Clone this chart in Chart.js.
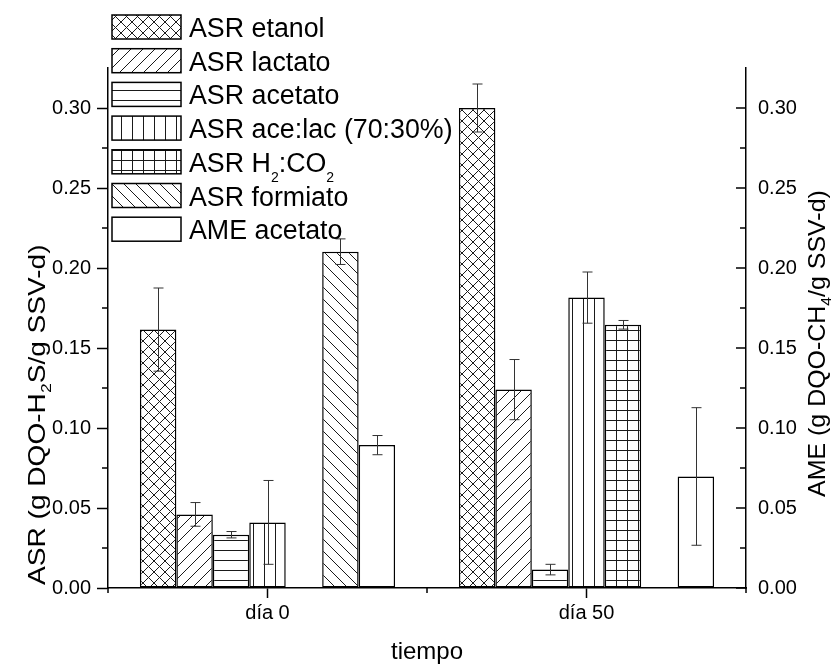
<!DOCTYPE html>
<html><head><meta charset="utf-8">
<script src="https://cdn.jsdelivr.net/npm/chart.js@4.4.0/dist/chart.umd.min.js"></script>
<style>html,body{margin:0;padding:0;background:#fff;}canvas{display:block;}</style>
</head><body>
<canvas id="c" width="836" height="666"></canvas>
<script>
// ---------------- data ----------------
const categories = ['día 0', 'día 50'];
const seriesNames = ['ASR etanol', 'ASR lactato', 'ASR acetato', 'ASR ace:lac (70:30%)', 'ASR H2:CO2', 'ASR formiato', 'AME acetato'];
const asrEtanol      = [0.1615, 0.3000];
const asrEtanolErr   = [0.0260, 0.0150];
const asrLactato     = [0.0460, 0.1240];
const asrLactatoErr  = [0.0074, 0.0188];
const asrAcetato     = [0.0333, 0.0115];
const asrAcetatoErr  = [0.0020, 0.0033];
const asrAceLac      = [0.0410, 0.1815];
const asrAceLacErr   = [0.0262, 0.0160];
const asrH2CO2       = [null, 0.1645];
const asrH2CO2Err    = [null, 0.0027];
const asrFormiato    = [0.2102, null];
const asrFormiatoErr = [0.0080, null];
const ameAcetato     = [0.0893, 0.0697];
const ameAcetatoErr  = [0.0060, 0.0430];
const yTickValues = [0.00, 0.05, 0.10, 0.15, 0.20, 0.25, 0.30];
const yMinorValues = [0.025, 0.075, 0.125, 0.175, 0.225, 0.275];
const yMax = 0.325;
// rich-text labels (text, isSubscript)
const legendRuns = [
  [['ASR etanol', 0]],
  [['ASR lactato', 0]],
  [['ASR acetato', 0]],
  [['ASR ace:lac (70:30%)', 0]],
  [['ASR H', 0], ['2', 1], [':CO', 0], ['2', 1]],
  [['ASR formiato', 0]],
  [['AME acetato', 0]]
];
const leftTitleRuns  = [['ASR (g DQO-H', 0], ['2', 1], ['S/g SSV-d)', 0]];
const rightTitleRuns = [['AME (g DQO-CH', 0], ['4', 1], ['/g SSV-d)', 0]];
const xTitle = 'tiempo';

// ---------------- patterns ----------------
const FONT = '"Liberation Sans", Arial, Helvetica, sans-serif';
const LINE = '#1a1a1a';
function makePattern(kind) {
  const c = document.createElement('canvas');
  let w = 11, h = 11;
  if (kind === 'h') { w = 10; h = 10; }
  if (kind === 'v') { w = 11; h = 10; }
  if (kind === 'grid') { w = 11; h = 10; }
  if (kind === 'fw' || kind === 'bw') { w = 12; h = 12; }
  c.width = w; c.height = h;
  const g = c.getContext('2d');
  g.fillStyle = '#fff'; g.fillRect(0, 0, w, h);
  g.strokeStyle = LINE; g.fillStyle = LINE; g.lineWidth = 1;
  if (kind === 'x' || kind === 'fw' || kind === 'bw') {
    g.beginPath();
    for (const k of [-w, 0, w]) {
      if (kind === 'x' || kind === 'bw') { g.moveTo(k, 0); g.lineTo(k + w, h); }
      if (kind === 'x' || kind === 'fw') { g.moveTo(k, h); g.lineTo(k + w, 0); }
    }
    g.stroke();
  }
  if (kind === 'h' || kind === 'grid') g.fillRect(0, 0, w, 1);
  if (kind === 'v' || kind === 'grid') g.fillRect(0, 0, 1, h);
  if (kind === 'none') return '#ffffff';
  return g.createPattern(c, 'repeat');
}
const fills = ['x', 'fw', 'h', 'v', 'grid', 'bw', 'none'].map(makePattern);
const values = [asrEtanol, asrLactato, asrAcetato, asrAceLac, asrH2CO2, asrFormiato, ameAcetato];
const errors = [asrEtanolErr, asrLactatoErr, asrAcetatoErr, asrAceLacErr, asrH2CO2Err, asrFormiatoErr, ameAcetatoErr];

function drawRuns(ctx, runs, x, y, size, subSize, subDy) {
  let cx = x;
  for (const [t, sub] of runs) {
    ctx.font = (sub ? subSize : size) + 'px ' + FONT;
    ctx.fillText(t, cx, y + (sub ? subDy : 0));
    cx += ctx.measureText(t).width;
  }
  return cx - x;
}

const errorBars = {
  id: 'errorBars',
  afterDatasetsDraw(chart) {
    const ctx = chart.ctx, ys = chart.scales.y;
    ctx.save();
    ctx.strokeStyle = '#333'; ctx.lineWidth = 1;
    values.forEach((vals, i) => {
      const meta = chart.getDatasetMeta(i);
      vals.forEach((v, j) => {
        const e = errors[i][j];
        if (v == null || e == null) return;
        const x = Math.round(meta.data[j].x) + 0.5;
        const yt = ys.getPixelForValue(v + e), yb = ys.getPixelForValue(v - e);
        ctx.beginPath();
        ctx.moveTo(x, yt); ctx.lineTo(x, yb);
        ctx.moveTo(x - 5, yt); ctx.lineTo(x + 5, yt);
        ctx.moveTo(x - 5, yb); ctx.lineTo(x + 5, yb);
        ctx.stroke();
      });
    });
    ctx.restore();
  }
};

const decor = {
  id: 'decor',
  afterDraw(chart) {
    const ctx = chart.ctx, a = chart.chartArea, ys = chart.scales.y, xs = chart.scales.x;
    ctx.save();
    ctx.strokeStyle = '#000'; ctx.lineWidth = 1.5;
    ctx.beginPath();
    // minor ticks left (outward)
    yMinorValues.forEach(v => { const y = ys.getPixelForValue(v); ctx.moveTo(a.left, y); ctx.lineTo(a.left - 6, y); });
    // right axis ticks (inward)
    yTickValues.forEach(v => { const y = ys.getPixelForValue(v); ctx.moveTo(a.right, y); ctx.lineTo(a.right - 10, y); });
    yMinorValues.forEach(v => { const y = ys.getPixelForValue(v); ctx.moveTo(a.right, y); ctx.lineTo(a.right - 6, y); });
    // bottom minor ticks at category edges
    const mid = (xs.getPixelForValue(0) + xs.getPixelForValue(1)) / 2;
    [a.left, mid, a.right].forEach(x => { ctx.moveTo(x, a.bottom); ctx.lineTo(x, a.bottom + 5); });
    ctx.stroke();

    // legend
    ctx.fillStyle = '#000';
    ctx.textBaseline = 'alphabetic'; ctx.textAlign = 'left';
    legendRuns.forEach((runs, i) => {
      const cy = 27 + 33.7 * i;
      ctx.fillStyle = fills[i];
      ctx.fillRect(112, cy - 12, 69, 24);
      ctx.lineWidth = 1.5; ctx.strokeStyle = '#000';
      ctx.strokeRect(112, cy - 12, 69, 24);
      ctx.fillStyle = '#000';
      drawRuns(ctx, runs, 189, cy + 10, 26.8, 14, 10);
    });

    // axis titles
    ctx.save();
    ctx.translate(45, 585); ctx.rotate(-Math.PI / 2); ctx.scale(1.17, 1);
    drawRuns(ctx, leftTitleRuns, 0, 0, 24, 15, 6);
    ctx.restore();
    ctx.save();
    ctx.translate(825, 497); ctx.rotate(-Math.PI / 2); ctx.scale(1.04, 1);
    drawRuns(ctx, rightTitleRuns, 0, 0, 24, 15, 6);
    ctx.restore();
    ctx.font = '24px ' + FONT; ctx.textAlign = 'center'; ctx.textBaseline = 'middle';
    ctx.fillText(xTitle, (a.left + a.right) / 2, 652);
    ctx.restore();
  }
};

const tickFont = { family: FONT, size: 20 };
new Chart(document.getElementById('c'), {
  type: 'bar',
  data: {
    labels: categories,
    datasets: seriesNames.map((n, i) => ({
      label: n, data: values[i], backgroundColor: fills[i],
      borderColor: '#000', borderWidth: 1.5, borderSkipped: false,
      categoryPercentage: 0.8, barPercentage: 1.0
    }))
  },
  options: {
    responsive: false, animation: false, devicePixelRatio: 1,
    layout: { padding: { top: 68, left: 0, right: 0, bottom: 0 } },
    plugins: { legend: { display: false }, tooltip: { enabled: false } },
    scales: {
      x: {
        offset: true,
        grid: { display: true, offset: false, drawOnChartArea: false, drawTicks: true, tickLength: 10, tickWidth: 1.5, tickColor: '#000' },
        border: { display: true, color: '#000', width: 1.5 },
        ticks: { font: tickFont, color: '#000', padding: 3, maxRotation: 0 },
        afterFit(s) { s.height = 78; }
      },
      y: {
        position: 'left', min: 0, max: yMax,
        grid: { display: true, drawOnChartArea: false, drawTicks: true, tickLength: 11, tickWidth: 1.5, tickColor: '#000' },
        border: { display: true, color: '#000', width: 1.5 },
        ticks: { font: tickFont, color: '#000', padding: 6, callback: v => Number(v).toFixed(2) },
        afterBuildTicks(s) { s.ticks = yTickValues.map(v => ({ value: v })); },
        afterFit(s) { s.width = 108; }
      },
      y2: {
        position: 'right', min: 0, max: yMax,
        grid: { display: false, drawTicks: false, tickLength: 0 },
        border: { display: true, color: '#000', width: 1.5 },
        ticks: { font: tickFont, color: '#000', padding: 12, callback: v => Number(v).toFixed(2) },
        afterBuildTicks(s) { s.ticks = yTickValues.map(v => ({ value: v })); },
        afterFit(s) { s.width = 90; }
      }
    }
  },
  plugins: [errorBars, decor]
});
</script>
</body></html>
